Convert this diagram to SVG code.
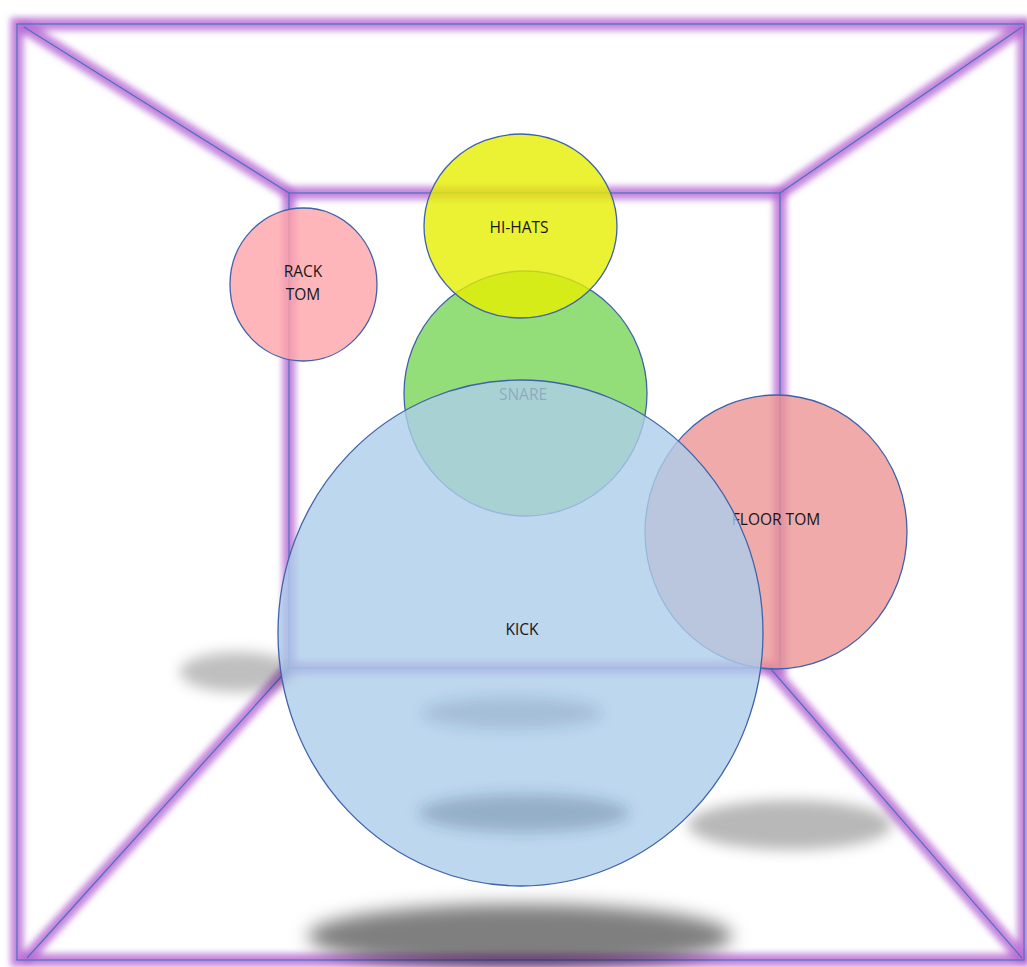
<svg xmlns="http://www.w3.org/2000/svg" width="1027" height="967" viewBox="0 0 1027 967">
  <defs>
    <filter id="glow" x="-5%" y="-5%" width="110%" height="110%">
      <feGaussianBlur stdDeviation="3.4"/>
    </filter>
    <filter id="shadowBlur" x="-50%" y="-100%" width="200%" height="300%">
      <feGaussianBlur stdDeviation="9"/>
    </filter>
    <filter id="softBlur" x="-50%" y="-100%" width="200%" height="300%">
      <feGaussianBlur stdDeviation="7"/>
    </filter>
  </defs>
  <style>
    .glow { fill: none; stroke: #b565d2; stroke-width: 13; stroke-opacity: 0.8; stroke-linecap: round; }
    .wire { fill: none; stroke: #4a70c4; stroke-width: 1.2; }
    .drum { stroke: #3f62ab; stroke-width: 1.3; fill-opacity: 0.8; }
    .label { font-family: "Open Sans", "Liberation Sans", sans-serif; font-size: 15.5px; fill: #161616; text-anchor: middle; }
  </style>
  <rect x="0" y="0" width="1027" height="967" fill="#ffffff"/>

  <g id="room-lines">
    <g filter="url(#glow)">
      <rect class="glow" x="17" y="24" width="1007" height="936"/>
      <rect class="glow" x="289" y="193" width="491" height="475"/>
      <line class="glow" x1="24" y1="27" x2="289" y2="193"/>
      <line class="glow" x1="780" y1="193" x2="1022" y2="27"/>
      <line class="glow" x1="27" y1="958" x2="289" y2="668"/>
      <line class="glow" x1="770" y1="668" x2="1022" y2="958"/>
    </g>
    <rect class="wire" x="17" y="24" width="1007" height="936"/>
    <rect class="wire" x="289" y="193" width="491" height="475"/>
    <line class="wire" x1="24" y1="27" x2="289" y2="193"/>
    <line class="wire" x1="780" y1="193" x2="1022" y2="27"/>
    <line class="wire" x1="27" y1="958" x2="289" y2="668"/>
    <line class="wire" x1="770" y1="668" x2="1022" y2="958"/>
  </g>

  <g id="floor-shadows">
    <ellipse cx="238" cy="672" rx="58" ry="20" fill="#000000" fill-opacity="0.25" filter="url(#softBlur)"/>
    <ellipse cx="790" cy="825" rx="102" ry="25" fill="#000000" fill-opacity="0.28" filter="url(#softBlur)"/>
    <ellipse cx="520" cy="936" rx="212" ry="32" fill="#000000" fill-opacity="0.5" filter="url(#shadowBlur)"/>
  </g>

  <g id="floor-tom">
    <ellipse class="drum" cx="776" cy="532" rx="131" ry="137" fill="#eb9594"/>
    <text class="label" x="776" y="525">FLOOR TOM</text>
  </g>

  <g id="snare">
    <ellipse class="drum" cx="525.5" cy="393.5" rx="121.5" ry="122.5" fill="#79d659"/>
    <text class="label" x="523" y="400">SNARE</text>
  </g>

  <g id="hi-hats">
    <ellipse class="drum" cx="520.5" cy="226" rx="96.5" ry="92" fill="#e5ef00"/>
    <text class="label" x="519" y="233">HI-HATS</text>
  </g>

  <g id="rack-tom">
    <ellipse class="drum" cx="303.5" cy="284.5" rx="73.5" ry="76.5" fill="#ffa4a9"/>
    <text class="label" x="303" y="277">RACK</text>
    <text class="label" x="303" y="300">TOM</text>
  </g>

  <g id="kick">
    <ellipse class="drum" cx="520.5" cy="633" rx="242.5" ry="253" fill="#adcdea"/>
    <ellipse cx="512" cy="713" rx="90" ry="16" fill="#1e3a5e" fill-opacity="0.16" filter="url(#softBlur)"/>
    <ellipse cx="524" cy="813" rx="105" ry="19" fill="#1e3a5e" fill-opacity="0.26" filter="url(#softBlur)"/>
    <text class="label" x="522" y="635">KICK</text>
  </g>
</svg>
